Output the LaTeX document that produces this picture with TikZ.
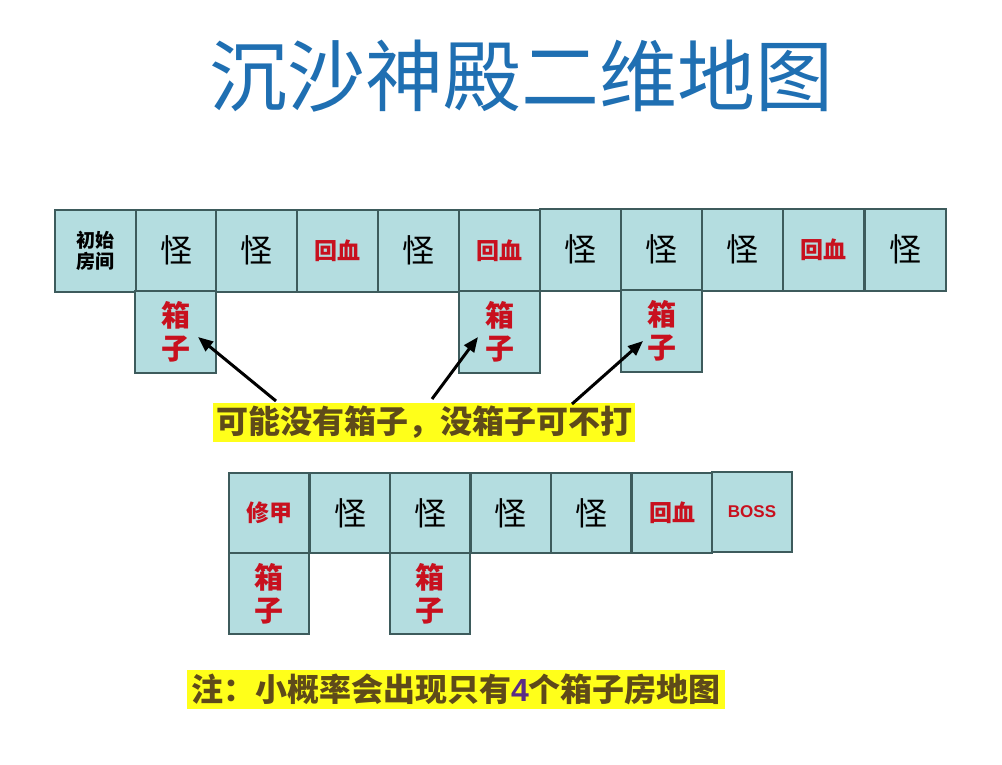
\documentclass[tikz,border=0pt]{standalone}
\usepackage{fontspec}
\newfontfamily\cjk{Noto Sans CJK SC}
\newfontfamily\arialf{Liberation Sans}
\usetikzlibrary{arrows.meta}
\definecolor{boxfill}{HTML}{B4DDE0}
\definecolor{boxline}{HTML}{3D5B5C}
\definecolor{rd}{HTML}{C8101E}
\definecolor{titleblue}{HTML}{1F6FB2}
\definecolor{notecol}{HTML}{5E4A1A}
\definecolor{purp}{HTML}{5A2D86}
\definecolor{hilite}{HTML}{FFFF1A}
\begin{document}
\begin{tikzpicture}[x=1pt,y=-1pt,
  room/.style={draw=boxline, line width=2pt, fill=boxfill, minimum width=81pt, minimum height=82pt, inner sep=0pt, font=\cjk\fontsize{32}{34}\selectfont},
  hx/.style={room, text=rd, font=\cjk\bfseries\fontsize{23}{25}\selectfont},
  startroom/.style={room, align=center, font=\cjk\bfseries\fontsize{19}{21}\selectfont},
  bossroom/.style={room, text=rd, font=\arialf\bfseries\fontsize{17}{19}\selectfont},
  xbox/.style={room, text=rd, align=center, font=\cjk\bfseries\fontsize{29}{33}\selectfont},
  notebox/.style={fill=hilite, text=notecol, inner sep=0pt, minimum height=39pt, font=\cjk\bfseries\fontsize{32}{34}\selectfont},
  pointer/.style={-{Triangle[length=15pt,width=12pt]}, line width=3pt, black}]
\useasboundingbox[fill=white] (0,0) rectangle (1002,764);

\node[text=titleblue, font=\cjk\fontsize{78}{80}\selectfont, inner sep=0pt] (title) at (521,76) {沉沙神殿二维地图};

% row 1
\node[startroom] (r1) at (95.5,250.5) {初始\\房间};
\node[room] (r2) at (176,250.5) {怪};
\node[room] (r3) at (256.5,250.5) {怪};
\node[hx] (r4) at (337.5,250.5) {回血};
\node[room] (r5) at (418.5,250.5) {怪};
\node[hx] (r6) at (499.5,250.5) {回血};
\node[room] (r7) at (580.5,249.5) {怪};
\node[room] (r8) at (661.5,249.5) {怪};
\node[room] (r9) at (742.5,249.5) {怪};
\node[hx] (r10) at (823.5,249.5) {回血};
\node[room] (r11) at (905,249.5) {怪};

\node[xbox] (b1) at (175.5,332) {箱\\子};
\node[xbox] (b2) at (499.5,332) {箱\\子};
\node[xbox] (b3) at (661.5,330.5) {箱\\子};

% row 2
\node[hx, minimum width=80pt, minimum height=80pt] (s1) at (269,513) {修甲};
\node[room, minimum width=80pt, minimum height=80pt] (s2) at (350,513) {怪};
\node[room, minimum width=80pt, minimum height=80pt] (s3) at (430,513) {怪};
\node[room, minimum width=80pt, minimum height=80pt] (s4) at (510.5,513) {怪};
\node[room, minimum width=80pt, minimum height=80pt] (s5) at (591,513) {怪};
\node[hx, minimum width=80pt, minimum height=80pt] (s6) at (672,513) {回血};
\node[bossroom, minimum width=80pt, minimum height=80pt] (s7) at (752,512) {BOSS};

\node[xbox, minimum width=80pt, minimum height=81pt] (t1) at (269,593.5) {箱\\子};
\node[xbox, minimum width=80pt, minimum height=81pt] (t2) at (430,593.5) {箱\\子};

% notes
\node[notebox, minimum width=422pt] (n1) at (424,422.5) {可能没有箱子，没箱子可不打};
\node[notebox, minimum width=538pt] (n2) at (456,689.5) {注：小概率会出现只有{\arialf\bfseries\color{purp}4}个箱子房地图};

% arrows
\coordinate (a1s) at (276,401);
\coordinate (a1e) at (198,337);
\coordinate (a2s) at (432,399);
\coordinate (a2e) at (478,337);
\coordinate (a3s) at (572,404);
\coordinate (a3e) at (643,341);
\draw[pointer] (a1s) -- (a1e);
\draw[pointer] (a2s) -- (a2e);
\draw[pointer] (a3s) -- (a3e);
\end{tikzpicture}
\end{document}
